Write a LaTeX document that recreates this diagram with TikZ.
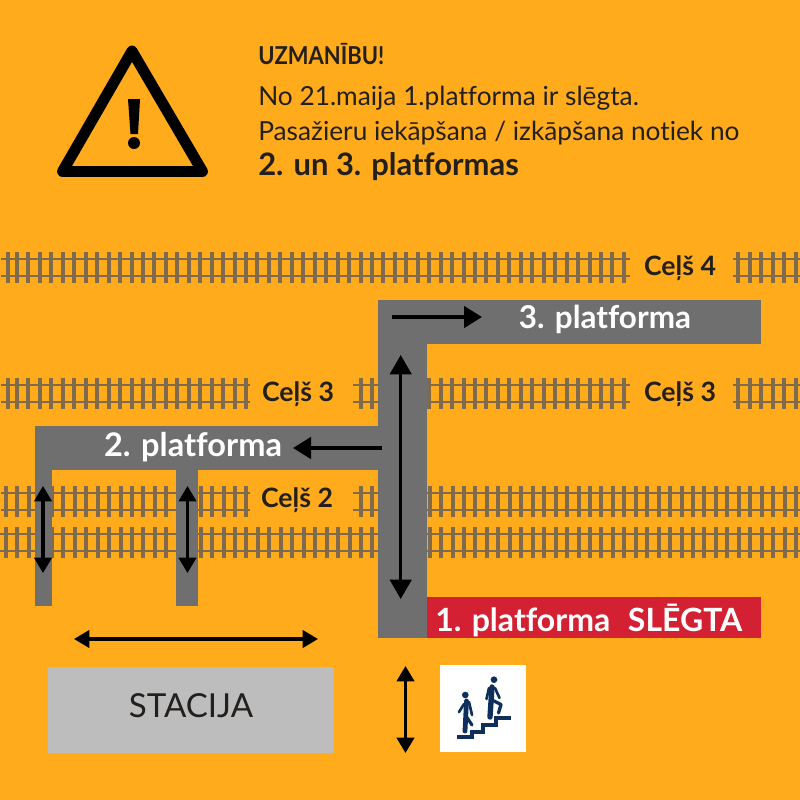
\documentclass[tikz,border=0pt]{standalone}
\usepackage{fontspec}
\usetikzlibrary{arrows.meta}
\setmainfont[Ligatures=NoCommon]{Lato}
\definecolor{bgc}{HTML}{FFAB1C}
\definecolor{railc}{HTML}{7F6A4E}
\definecolor{platc}{HTML}{6F6F6F}
\definecolor{redc}{HTML}{D42033}
\definecolor{statc}{HTML}{BDBDBD}
\definecolor{navyc}{HTML}{0E2F5C}
\definecolor{inkc}{HTML}{231F1C}
\tikzset{
  x=0.75pt,y=-0.75pt,
  rail/.style={draw=railc,line width=2.2pt},
  tie/.style={draw=railc,line width=3pt},
  plat/.style={fill=platc,draw=none},
  bigarrow/.style={draw=black,line width=2.6pt,{Triangle[width=16pt,length=14.5pt]}-{Triangle[width=16pt,length=14.5pt]}},
  oneway/.style={draw=black,line width=2.6pt,-{Triangle[width=16pt,length=13.5pt]}},
  smallarrow/.style={draw=black,line width=2.3pt,{Triangle[width=13pt,length=11.5pt]}-{Triangle[width=13pt,length=11.5pt]}},
  lab/.style={text=inkc,font=\bfseries\fontsize{20}{20}\selectfont,inner sep=0pt},
  platlab/.style={text=white,font=\bfseries\fontsize{23.6}{23.6}\selectfont,inner sep=0pt},
  head/.style={text=inkc,anchor=base west,inner sep=0pt},
  walker/.style={draw=navyc,line cap=round,line join=round},
}
\newcommand{\track}[6]{% y top rail, first k, last k, offset, x start, x end
  \draw[rail] (#5,#1) -- (#6,#1);
  \draw[rail] (#5,#1+17) -- (#6,#1+17);
  \foreach \k in {#2,...,#3} \draw[tie] ({#4+11.45*\k},#1-7) -- ({#4+11.45*\k},#1+24);
}
\begin{document}
\begin{tikzpicture}
\useasboundingbox (0,0) rectangle (800,800);
\fill[bgc] (0,0) rectangle (800,800);
% warning sign
\draw[black,line width=8.2pt,line join=round] (132,51) -- (202.5,171.5) -- (62.5,171.5) -- cycle;
\fill[black] (128,99) -- (140,99) -- (138,134) -- (130.5,134) -- cycle;
\fill[black] (134,143) circle[radius=4.5pt];
% header
\node[head,font=\bfseries\fontsize{18.5}{18.5}\selectfont] (h1) at (258,64) {\scalebox{0.89}[1]{UZMANĪBU!}};
\node[head,font=\fontsize{19.7}{19.7}\selectfont] (h2) at (258,105) {No 21.maija 1.platforma ir slēgta.};
\node[head,font=\fontsize{19.7}{19.7}\selectfont] (h3) at (258,140) {Pasažieru iekāpšana / izkāpšana notiek no};
\node[head,font=\bfseries\fontsize{23.2}{23.2}\selectfont] (h4) at (258,175) {2. un 3. platformas};
% tracks
\track{259}{0}{53}{17}{1}{630}
\track{259}{63}{68}{17}{733}{800}
\draw[tie] (7.5,252) -- (7.5,283);
\track{385}{0}{20}{17}{1}{250}
\track{385}{30}{53}{17}{353}{630}
\track{385}{63}{68}{17}{733}{800}
\draw[tie] (7.5,378) -- (7.5,409);
\track{493}{0}{21}{6}{1}{250}
\track{493}{31}{69}{6}{353}{800}
\track{534}{0}{69}{6}{0}{800}
% platforms
\fill[plat] (378,300) rectangle (761,344);
\fill[plat] (378,300) rectangle (427,638);
\fill[plat] (35,426) rectangle (378,470);
\fill[plat] (35,426) rectangle (52,606);
\fill[plat] (176,426) rectangle (198,606);
\fill[redc] (427,597) rectangle (761,638);
\fill[statc] (48,667) rectangle (334,753);
% labels
\node[lab] (c4) at (680,268) {Ceļš 4};
\node[lab] (c3a) at (298,394) {Ceļš 3};
\node[lab] (c3b) at (680,394) {Ceļš 3};
\node[lab] (c2) at (297,500) {Ceļš 2};
\node[platlab] (p3) at (605,319) {3. platforma};
\node[platlab,font=\bfseries\fontsize{24.4}{24.4}\selectfont] (p2) at (193,447) {2. platforma};
\node[platlab,anchor=west,font=\bfseries\fontsize{24}{24}\selectfont] (p1) at (435,620) {1. platforma\hspace{0.55em}SLĒGTA};
\node[text=inkc,font=\fontsize{24.8}{24.8}\selectfont,inner sep=0pt] (st) at (191,706) {STACIJA};
% arrows
\coordinate (a1) at (400.7,355); \coordinate (a2) at (400.7,599);
\draw[bigarrow] (a1) -- (a2);
\coordinate (b1) at (392,317); \coordinate (b2) at (482,317);
\draw[oneway] (b1) -- (b2);
\coordinate (c1) at (382,448); \coordinate (c2p) at (293,448);
\draw[oneway] (c1) -- (c2p);
\coordinate (d1) at (43,486); \coordinate (d2) at (43,573);
\draw[smallarrow] (d1) -- (d2);
\coordinate (e1) at (187.5,486); \coordinate (e2) at (187.5,573);
\draw[smallarrow] (e1) -- (e2);
\coordinate (f1) at (74,639); \coordinate (f2) at (318,639);
\draw[smallarrow] (f1) -- (f2);
\coordinate (g1) at (405.5,666); \coordinate (g2) at (405.5,753);
\draw[smallarrow] (g1) -- (g2);
% stairs icon
\fill[white] (440,665) rectangle (526,752);
\draw[navyc,line width=3pt] (457.3,737) -- (471.7,737) -- (471.7,731.7) -- (483.3,731.7) -- (483.3,725) -- (495.7,725) -- (495.7,718.3) -- (510.7,718.3);
\fill[navyc] (465.3,695) circle[radius=2.5pt];
\draw[walker,line width=3.6pt] (466.5,701) -- (465,731);
\draw[walker,line width=2pt] (464,704) -- (459,712);
\draw[walker,line width=2pt] (469,702) -- (472,715);
\draw[walker,line width=2.3pt] (466,716) -- (472,725);
\fill[navyc] (494,679.7) circle[radius=2.5pt];
\draw[walker,line width=4pt] (492,687) -- (490,717);
\draw[walker,line width=2pt] (489,688) -- (486.5,699);
\draw[walker,line width=2pt] (495,688) -- (499.5,698);
\draw[walker,line width=2.5pt] (492,700) -- (501,704.5) -- (498.5,713);
\end{tikzpicture}
\end{document}
